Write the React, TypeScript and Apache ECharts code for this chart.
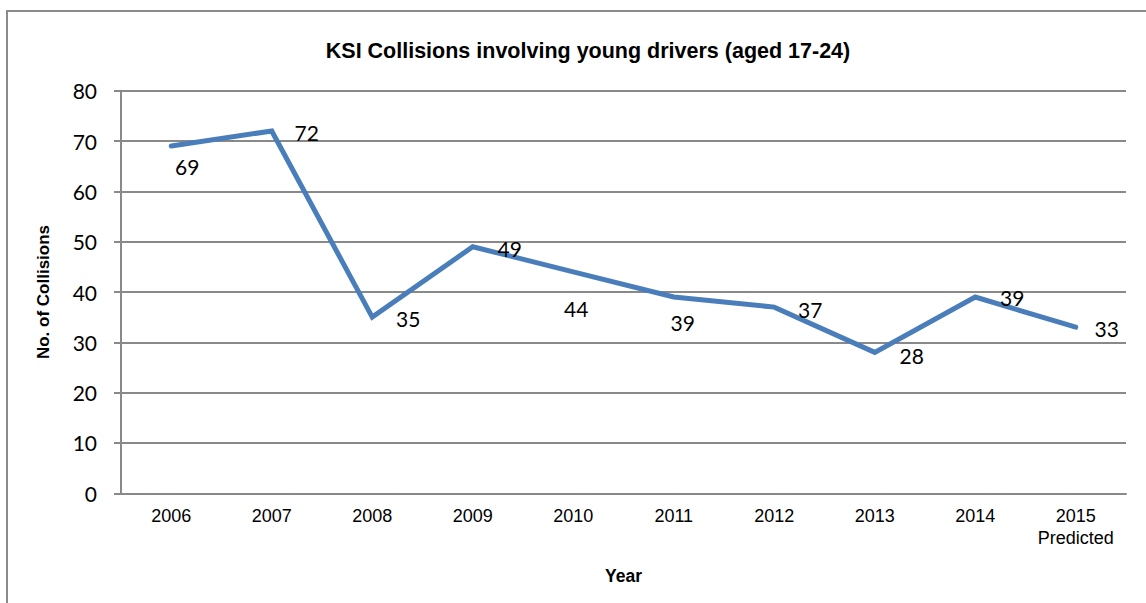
import React, { useEffect, useRef } from "react";
import * as echarts from "echarts";

const categories = ["2006", "2007", "2008", "2009", "2010", "2011", "2012", "2013", "2014", "2015\nPredicted"];
const collisions = [69, 72, 35, 49, 44, 39, 37, 28, 39, 33];
const labelOffsets: number[][] = [
  [16, 20], [35, 2], [36, 1], [37, 2], [3, 37], [9, 25], [36, 2], [37, 3], [37, 0], [31, 1],
];
const yTicks = { min: 0, max: 80, interval: 10 };
const chartTitle = "KSI Collisions involving young drivers (aged 17-24)";
const yName = "No. of Collisions";
const xName = "Year";

export default function App() {
  const ref = useRef<HTMLDivElement>(null);
  useEffect(() => {
    if (!ref.current) return;
    const chart = echarts.init(ref.current, null, { renderer: "svg" });
    const grey = "#898989";
    chart.setOption({
      animation: false,
      backgroundColor: "#ffffff",
      title: {
        text: chartTitle,
        left: 583,
        textAlign: "center",
        top: 35,
        textStyle: { fontFamily: "Liberation Sans", fontWeight: "bold", fontSize: 21.5, color: "#000" },
      },
      graphic: [
        {
          type: "rect",
          shape: { x: 7, y: 11, width: 1400, height: 800 },
          style: { fill: "none", stroke: "#8a8a8a", lineWidth: 2 },
          silent: true,
        },
      ],
      grid: { left: 121, right: 20, top: 90.7, bottom: 109.7 },
      xAxis: {
        type: "category",
        data: categories,
        boundaryGap: true,
        name: xName,
        nameLocation: "middle",
        nameGap: 74,
        nameTextStyle: { fontFamily: "Liberation Sans", fontWeight: "bold", fontSize: 17.5, color: "#000" },
        axisLine: { lineStyle: { color: grey, width: 2 } },
        axisTick: { show: false },
        axisLabel: {
          fontFamily: "Liberation Sans",
          fontSize: 18,
          color: "#000",
          margin: 12,
          lineHeight: 22,
          interval: 0,
        },
      },
      yAxis: {
        type: "value",
        min: yTicks.min,
        max: yTicks.max,
        interval: yTicks.interval,
        name: yName,
        nameLocation: "middle",
        nameGap: 69,
        nameRotate: 90,
        nameTextStyle: { fontFamily: "Liberation Sans", fontWeight: "bold", fontSize: 17, color: "#000" },
        axisLine: { show: true, lineStyle: { color: grey, width: 2 } },
        axisTick: { show: true, length: 7, lineStyle: { color: grey, width: 2 } },
        axisLabel: { fontFamily: "Lato", fontSize: 21, color: "#000", margin: 24 },
        splitLine: { show: true, lineStyle: { color: grey, width: 2 } },
      },
      series: [
        {
          type: "line",
          data: collisions.map((v, i) => ({
            value: v,
            label: { offset: labelOffsets[i] },
          })),
          symbol: "circle",
          symbolSize: 1,
          itemStyle: { color: "#4a7ebb" },
          lineStyle: { color: "#4a7ebb", width: 5, cap: "round", join: "miter" },
          label: {
            show: true,
            position: "inside",
            fontFamily: "Lato",
            fontSize: 21,
            color: "#000",
          },
        },
      ],
    });
    return () => chart.dispose();
  }, []);
  return (
    <div
      ref={ref}
      style={{ position: "fixed", left: 0, top: 0, width: 1146, height: 603, background: "#fff" }}
    />
  );
}
